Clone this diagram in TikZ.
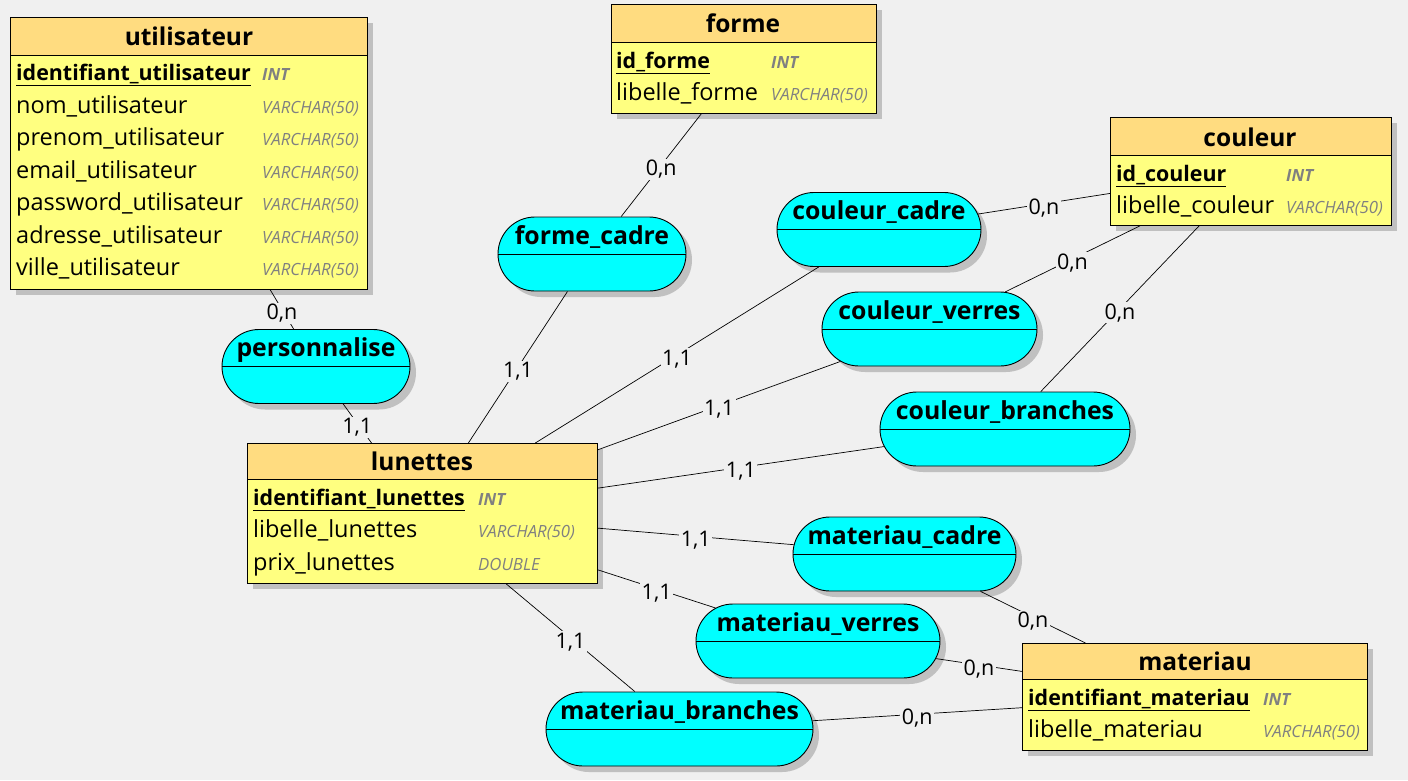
\documentclass[tikz,border=0pt]{standalone}
\usepackage{fontspec}
\setmainfont{Open Sans}
\usetikzlibrary{shapes.misc,shadows}
\definecolor{bg}{HTML}{F0F0F0}
\definecolor{headc}{HTML}{FFDC80}
\definecolor{bodyc}{HTML}{FFFF80}
\definecolor{assocc}{HTML}{00FFFF}
\definecolor{shad}{HTML}{C0C0C0}
\definecolor{typec}{HTML}{808080}
\begin{document}
\begin{tikzpicture}[x=1pt,y=-1pt,
  shadowed/.style={drop shadow={shadow xshift=6pt,shadow yshift=-6pt,fill=shad,opacity=1}},
  entity/.style={draw=black,line width=0.9pt,fill=bodyc,anchor=north west,inner sep=0pt,shadowed},
  headbox/.style={draw=black,line width=0.9pt,fill=headc},
  etitle/.style={anchor=base,font=\bfseries\fontsize{24.5}{27}\selectfont,inner sep=0pt},
  attr/.style={anchor=base west,font=\fontsize{23.5}{26}\selectfont,inner sep=0pt},
  keyattr/.style={anchor=base west,font=\bfseries\fontsize{21.4}{26}\selectfont,inner sep=0pt},
  typ/.style={anchor=base west,font=\itshape\fontsize{16.8}{18}\selectfont,text=typec,inner sep=0pt},
  ktyp/.style={typ,font=\bfseries\itshape\fontsize{16.8}{18}\selectfont},
  assoc/.style={rounded rectangle,draw=black,line width=0.9pt,fill=assocc,minimum height=74pt,inner sep=0pt,shadowed},
  atitle/.style={anchor=base,font=\bfseries\fontsize{24.8}{27}\selectfont,inner sep=0pt},
  link/.style={draw=black,line width=0.7pt},
  card/.style={fill=bg,font=\fontsize{21.5}{24}\selectfont,inner sep=1.5pt,yshift=-4pt}
]
\fill[bg] (0,0) rectangle (1408,780);
\useasboundingbox (0,0) rectangle (1408,780);

% ---------- entities ----------
% utilisateur
\node[entity,minimum width=357pt,minimum height=272pt] (utilisateur) at (10,17) {};
\draw[headbox] (utilisateur.north west) rectangle ([yshift=-38pt]utilisateur.north east);
\node[etitle] (tu) at (189,45) {utilisateur};
\node[keyattr] (u1) at (16,80) {\underline{identifiant\_utilisateur}};
\node[attr] (u2) at (16,113) {nom\_utilisateur};
\node[attr] (u3) at (16,145.5) {prenom\_utilisateur};
\node[attr] (u4) at (16,178) {email\_utilisateur};
\node[attr] (u5) at (16,210.5) {password\_utilisateur};
\node[attr] (u6) at (16,243) {adresse\_utilisateur};
\node[attr] (u7) at (16,275.5) {ville\_utilisateur};
\node[ktyp] (ut1) at (262,80) {INT};
\node[typ] (ut2) at (262,113) {VARCHAR(50)};
\node[typ] (ut3) at (262,145.5) {VARCHAR(50)};
\node[typ] (ut4) at (262,178) {VARCHAR(50)};
\node[typ] (ut5) at (262,210.5) {VARCHAR(50)};
\node[typ] (ut6) at (262,243) {VARCHAR(50)};
\node[typ] (ut7) at (262,275.5) {VARCHAR(50)};

% forme
\node[entity,minimum width=265pt,minimum height=109pt] (forme) at (611,4) {};
\draw[headbox] (forme.north west) rectangle ([yshift=-38pt]forme.north east);
\node[etitle] (tf) at (743,32) {forme};
\node[keyattr] (f1) at (616,68) {\underline{id\_forme}};
\node[attr] (f2) at (616,100) {libelle\_forme};
\node[ktyp] (ft1) at (771,68) {INT};
\node[typ] (ft2) at (771,100) {VARCHAR(50)};

% couleur
\node[entity,minimum width=281pt,minimum height=108pt] (couleur) at (1110,117) {};
\draw[headbox] (couleur.north west) rectangle ([yshift=-38pt]couleur.north east);
\node[etitle] (tc) at (1250,146) {couleur};
\node[keyattr] (c1) at (1116,181) {\underline{id\_couleur}};
\node[attr] (c2) at (1116,213) {libelle\_couleur};
\node[ktyp] (ct1) at (1286,181) {INT};
\node[typ] (ct2) at (1286,213) {VARCHAR(50)};

% lunettes
\node[entity,minimum width=350pt,minimum height=140pt] (lunettes) at (247,443) {};
\draw[headbox] (lunettes.north west) rectangle ([yshift=-36pt]lunettes.north east);
\node[etitle] (tl) at (422,470) {lunettes};
\node[keyattr] (l1) at (253,505) {\underline{identifiant\_lunettes}};
\node[attr] (l2) at (253,537.5) {libelle\_lunettes};
\node[attr] (l3) at (253,570) {prix\_lunettes};
\node[ktyp] (lt1) at (478,505) {INT};
\node[typ] (lt2) at (478,537.5) {VARCHAR(50)};
\node[typ] (lt3) at (478,570) {DOUBLE};

% materiau
\node[entity,minimum width=345pt,minimum height=107pt] (materiau) at (1022,643) {};
\draw[headbox] (materiau.north west) rectangle ([yshift=-36pt]materiau.north east);
\node[etitle] (tm) at (1195,670) {materiau};
\node[keyattr] (m1) at (1028,705) {\underline{identifiant\_materiau}};
\node[attr] (m2) at (1028,737.5) {libelle\_materiau};
\node[ktyp] (mt1) at (1263,705) {INT};
\node[typ] (mt2) at (1263,737.5) {VARCHAR(50)};

% ---------- associations ----------
\foreach \nm/\cx/\cy/\w/\lab in {
  formecadre/592/254/188/forme\_cadre,
  couleurcadre/879/229.5/204/couleur\_cadre,
  couleurverres/929.5/329/215/couleur\_verres,
  couleurbranches/1005/429/250/couleur\_branches,
  personnalise/316/366.5/188/personnalise,
  materiaucadre/904.5/554/223/materiau\_cadre,
  materiauverres/818/641/244/materiau\_verres,
  materiaubranches/679.5/729/267/materiau\_branches}{
  \node[assoc,minimum width=\w pt] (\nm) at (\cx,\cy) {};
  \draw[line width=0.9pt] (\nm.west) -- (\nm.east);
  \node[atitle] (\nm-t) at ([yshift=10pt]\nm.center) {\lab};
}

% ---------- links ----------
\draw[link] (forme) -- node[card] (k1) {0,n} (formecadre);
\draw[link] (formecadre) -- node[card] (k2) {1,1} (lunettes);
\draw[link] (utilisateur) -- node[card] (k3) {0,n} (personnalise);
\draw[link] (personnalise) -- node[card] (k4) {1,1} (lunettes);
\draw[link] (couleurcadre) -- node[card] (k5) {1,1} (lunettes);
\draw[link] (couleurcadre) -- node[card] (k6) {0,n} (couleur);
\draw[link] (couleur) -- node[card] (k7) {0,n} (couleurverres);
\draw[link] (couleurverres) -- node[card] (k8) {1,1} (lunettes);
\draw[link] (couleur) -- node[card] (k9) {0,n} (couleurbranches);
\draw[link] (couleurbranches) -- node[card] (k10) {1,1} (lunettes);
\draw[link] (lunettes) -- node[card] (k11) {1,1} (materiaucadre);
\draw[link] (materiaucadre) -- node[card] (k12) {0,n} (materiau);
\draw[link] (lunettes) -- node[card] (k13) {1,1} (materiauverres);
\draw[link] (materiauverres) -- node[card] (k14) {0,n} (materiau);
\draw[link] (lunettes) -- node[card] (k15) {1,1} (materiaubranches);
\draw[link] (materiaubranches) -- node[card] (k16) {0,n} (materiau);
\end{tikzpicture}
\end{document}
